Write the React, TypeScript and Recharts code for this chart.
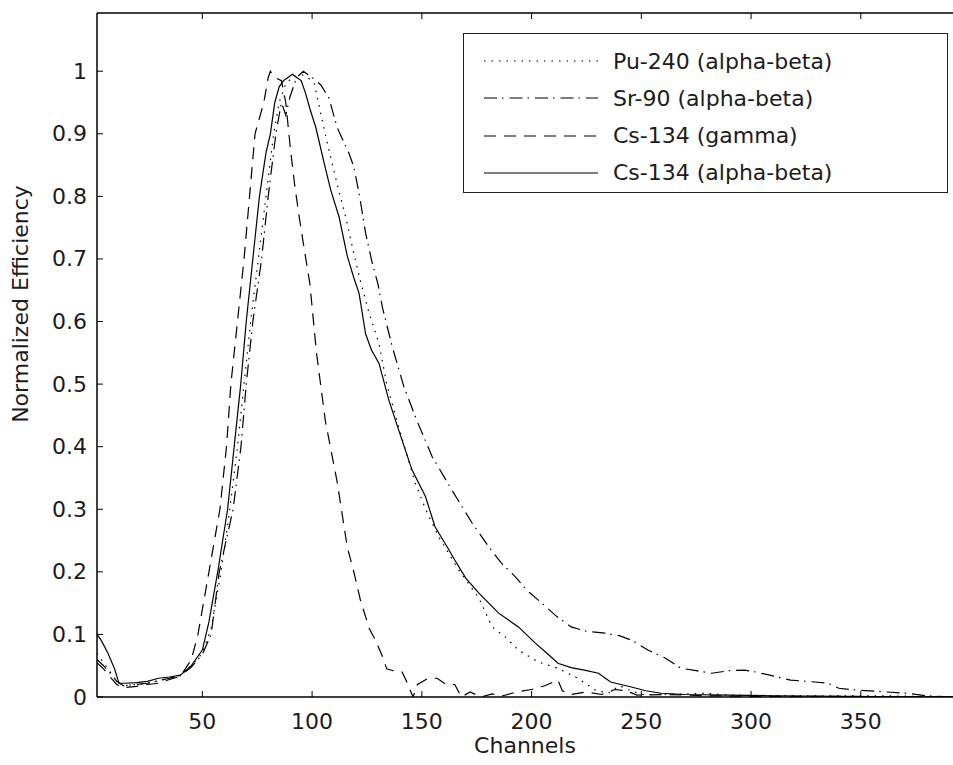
import React from 'react';
import { LineChart, Line, XAxis, YAxis, ReferenceLine } from 'recharts';

// layout of the plot frame inside the svg
const PLOT_LEFT = 89;
const PLOT_TOP = 5;
const PLOT_BOTTOM = 689;
const Y_MAX = 1.093;
const FONT = '"DejaVu Sans", Verdana, sans-serif';
const TEXT_COLOR = '#1c1c1c';

const channelTicks = [50, 100, 150, 200, 250, 300, 350];
const efficiencyTicks = [0, 0.1, 0.2, 0.3, 0.4, 0.5, 0.6, 0.7, 0.8, 0.9, 1];

// Pu-240 (alpha-beta), dotted
const puChannels = [2, 5, 8, 11, 14, 20, 25, 30, 35, 40, 45, 50, 54, 58.5, 62.5, 66, 69, 72, 75.5, 79, 82.5, 85, 88, 91, 95, 98, 101, 104.7, 107.7, 111.4, 115.3, 119, 122, 126, 130.5, 134, 138.6, 142.6, 147, 151.7, 157.7, 166.8, 176, 182, 188, 194, 203, 212, 221, 229, 235, 240, 244, 250, 260, 280, 290, 320, 360, 392];
const puEfficiency = [0.07, 0.055, 0.04, 0.025, 0.018, 0.02, 0.022, 0.026, 0.03, 0.035, 0.05, 0.07, 0.11, 0.2, 0.3, 0.4, 0.5, 0.6, 0.7, 0.8, 0.9, 0.95, 0.98, 0.99, 0.995, 0.99, 0.98, 0.92, 0.874, 0.82, 0.767, 0.709, 0.665, 0.613, 0.565, 0.5, 0.442, 0.394, 0.342, 0.3, 0.256, 0.203, 0.158, 0.112, 0.096, 0.075, 0.056, 0.046, 0.03, 0.011, 0.006, 0.018, 0.012, 0.004, 0.004, 0.006, 0.003, 0.002, 0.002, 0];

// Sr-90 (alpha-beta), dash-dot
const srChannels = [2, 5, 8, 11, 14, 20, 25, 30, 35, 40, 45, 50, 54, 57.7, 64, 67.6, 70, 73, 77, 80, 83.5, 86, 88, 90, 93, 96, 100, 104, 107.7, 111.4, 116.8, 119, 121.4, 124.4, 127.3, 130, 132, 136.5, 141.8, 147.7, 154.7, 163.8, 172.9, 180.5, 186, 192.6, 198, 204.7, 211, 218, 225, 233.5, 240, 246, 253, 261, 268, 275, 282, 290, 297, 302, 312, 318, 329, 335, 340, 348, 362, 371, 380, 392];
const srEfficiency = [0.06, 0.05, 0.038, 0.025, 0.018, 0.02, 0.022, 0.026, 0.03, 0.034, 0.048, 0.068, 0.1, 0.2, 0.3, 0.4, 0.5, 0.6, 0.7, 0.8, 0.9, 0.95, 0.93, 0.96, 0.99, 1.0, 0.99, 0.978, 0.957, 0.91, 0.869, 0.847, 0.805, 0.741, 0.695, 0.66, 0.623, 0.56, 0.496, 0.442, 0.384, 0.33, 0.278, 0.24, 0.215, 0.192, 0.17, 0.15, 0.13, 0.112, 0.105, 0.102, 0.098, 0.09, 0.075, 0.062, 0.046, 0.042, 0.038, 0.042, 0.043, 0.04, 0.032, 0.027, 0.024, 0.022, 0.014, 0.011, 0.008, 0.006, 0.002, 0];

// Cs-134 (gamma), dashed
const csGammaChannels = [2, 5, 8, 11, 14, 20, 25, 30, 35, 40, 45, 48, 53, 58, 61, 63, 66, 69, 71.5, 74, 78, 80, 81, 83, 86, 88, 90, 92, 94, 96, 99, 102, 106, 111.5, 116, 119, 122, 126, 129, 132, 134, 137, 141, 143, 146, 148, 153, 157, 161, 165, 168, 172, 177, 182, 187, 193, 200, 206, 212, 214, 218, 225, 232, 238, 243, 248, 260, 280, 300, 340, 392];
const csGammaEfficiency = [0.055, 0.045, 0.032, 0.02, 0.015, 0.017, 0.02, 0.022, 0.028, 0.033, 0.06, 0.1, 0.2, 0.3, 0.4, 0.5, 0.6, 0.7, 0.8, 0.9, 0.95, 0.99, 1.0, 0.99, 0.985, 0.95, 0.88, 0.82, 0.77, 0.725, 0.66, 0.55, 0.442, 0.342, 0.24, 0.2, 0.155, 0.11, 0.09, 0.065, 0.045, 0.042, 0.04, 0.025, 0, 0.02, 0.03, 0.03, 0.02, 0.02, 0, 0.008, 0, 0.005, 0.002, 0.008, 0.012, 0.018, 0.027, 0.01, 0.004, 0.008, 0.004, 0.012, 0.01, 0.003, 0.004, 0.002, 0.001, 0.001, 0];

// Cs-134 (alpha-beta), solid
const csAbChannels = [2, 4, 7, 10, 12, 15, 20, 25, 30, 35, 40, 45, 50, 53, 57, 61.5, 64.5, 67.5, 70, 73, 76, 79, 81, 83, 85, 87, 89, 91, 93, 95, 97, 99, 101.7, 105.5, 108.5, 112.3, 116, 119, 121.4, 124.4, 127, 130.5, 135, 139.5, 145.5, 151.7, 156, 161.5, 165, 170, 176, 185, 194, 201.7, 207, 212, 218, 224, 230.5, 236, 245.5, 252, 259, 270, 290, 310, 340, 392];
const csAbEfficiency = [0.1, 0.09, 0.07, 0.045, 0.022, 0.022, 0.023, 0.025, 0.03, 0.032, 0.035, 0.05, 0.075, 0.12, 0.2, 0.3, 0.4, 0.5, 0.6, 0.7, 0.8, 0.87, 0.9, 0.95, 0.975, 0.985, 0.99, 0.995, 0.99, 0.985, 0.965, 0.94, 0.91, 0.853, 0.81, 0.767, 0.705, 0.67, 0.645, 0.58, 0.555, 0.533, 0.474, 0.426, 0.363, 0.32, 0.272, 0.24, 0.219, 0.19, 0.166, 0.134, 0.112, 0.086, 0.07, 0.054, 0.047, 0.043, 0.038, 0.024, 0.016, 0.01, 0.006, 0.004, 0.003, 0.002, 0.001, 0];

const toPoints = (channels: number[], eff: number[]) =>
  channels.map((ch, i) => ({ ch, eff: eff[i] }));

const series = [
  { name: 'Pu-240 (alpha-beta)', data: toPoints(puChannels, puEfficiency), dash: '1.5 6' },
  { name: 'Sr-90 (alpha-beta)', data: toPoints(srChannels, srEfficiency), dash: '13 5 1.5 6' },
  { name: 'Cs-134 (gamma)', data: toPoints(csGammaChannels, csGammaEfficiency), dash: '12 8' },
  { name: 'Cs-134 (alpha-beta)', data: toPoints(csAbChannels, csAbEfficiency), dash: undefined },
];

const XTick = (props: any) => {
  const { x, payload } = props;
  return (
    <g>
      <line x1={x} x2={x} y1={PLOT_BOTTOM} y2={PLOT_BOTTOM - 6} stroke="#000" />
      <line x1={x} x2={x} y1={PLOT_TOP} y2={PLOT_TOP + 6} stroke="#000" />
      <text x={x} y={PLOT_BOTTOM + 32} textAnchor="middle" fontSize={22} fill={TEXT_COLOR} fontFamily={FONT}>
        {payload.value}
      </text>
    </g>
  );
};

const YTick = (props: any) => {
  const { y, payload } = props;
  return (
    <g>
      <line x1={PLOT_LEFT} x2={PLOT_LEFT + 6} y1={y} y2={y} stroke="#000" />
      <text x={PLOT_LEFT - 10} y={y} textAnchor="end" dominantBaseline="central" fontSize={22} fill={TEXT_COLOR} fontFamily={FONT}>
        {payload.value}
      </text>
    </g>
  );
};

const YLabel = () => (
  <text
    x={12}
    y={296}
    transform="rotate(-90 12 296)"
    textAnchor="middle"
    dominantBaseline="central"
    fontSize={22}
    fill={TEXT_COLOR}
    fontFamily={FONT}
  >
    Normalized Efficiency
  </text>
);

const XLabel = () => (
  <text x={517} y={745} textAnchor="middle" fontSize={22} fill={TEXT_COLOR} fontFamily={FONT}>
    Channels
  </text>
);

const LegendBox = () => (
  <div
    style={{
      position: 'absolute',
      left: 463,
      top: 33,
      width: 485,
      height: 160,
      border: '1.5px solid #222',
      background: '#fff',
      boxSizing: 'border-box',
      fontFamily: FONT,
      fontSize: 22,
      color: TEXT_COLOR,
    }}
  >
    {series.map((s, i) => (
      <div key={s.name} style={{ position: 'absolute', left: 0, top: 27 + i * 37.3 - 14, height: 28, display: 'flex', alignItems: 'center' }}>
        <svg width={149} height={28}>
          <line x1={20} x2={134} y1={14} y2={14} stroke="#000" strokeWidth={1.2} strokeDasharray={s.dash} />
        </svg>
        <span style={{ whiteSpace: 'nowrap' }}>{s.name}</span>
      </div>
    ))}
  </div>
);

export default function App() {
  return (
    <div style={{ position: 'absolute', left: 0, top: 0, width: 953, height: 765, overflow: 'hidden', background: '#fff' }}>
      <div style={{ position: 'absolute', left: 8, top: 8 }}>
        <LineChart width={945} height={757} margin={{ top: 5, right: 0, bottom: 0, left: 0 }}>
          <XAxis
            dataKey="ch"
            type="number"
            domain={[2, 392]}
            allowDataOverflow
            ticks={channelTicks}
            height={68}
            axisLine={{ stroke: '#000', strokeWidth: 1.5 }}
            tickLine={false}
            tick={(p: any) => <XTick {...p} />}
            label={<XLabel />}
          />
          <YAxis
            type="number"
            domain={[0, Y_MAX]}
            allowDataOverflow
            ticks={efficiencyTicks}
            width={89}
            axisLine={{ stroke: '#000', strokeWidth: 1.5 }}
            tickLine={false}
            tick={(p: any) => <YTick {...p} />}
            label={<YLabel />}
          />
          <ReferenceLine y={Y_MAX} stroke="#000" strokeWidth={1.5} />
          {series.map((s) => (
            <Line
              key={s.name}
              data={s.data}
              dataKey="eff"
              name={s.name}
              type="linear"
              stroke="#000"
              strokeWidth={1.2}
              strokeDasharray={s.dash}
              dot={false}
              isAnimationActive={false}
            />
          ))}
        </LineChart>
      </div>
      <LegendBox />
    </div>
  );
}
